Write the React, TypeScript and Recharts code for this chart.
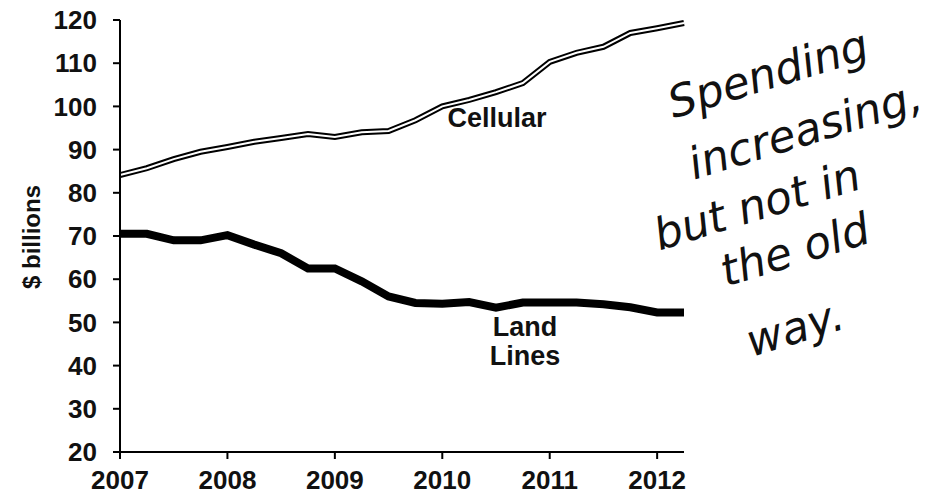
import React from 'react';
import { LineChart, Line, XAxis, YAxis, ReferenceDot } from 'recharts';

// quarterly spending, $ billions
const quarters = [
  2007, 2007.25, 2007.5, 2007.75, 2008, 2008.25, 2008.5, 2008.75, 2009, 2009.25, 2009.5,
  2009.75, 2010, 2010.25, 2010.5, 2010.75, 2011, 2011.25, 2011.5, 2011.75, 2012, 2012.25,
];
const cellular = [
  84.1, 85.7, 87.8, 89.5, 90.6, 91.8, 92.7, 93.6, 92.9, 94, 94.3,
  96.8, 100, 101.5, 103.3, 105.4, 110.3, 112.4, 113.8, 117, 118.1, 119.3,
];
const landLines = [
  70.5, 70.5, 69, 69, 70.2, 68, 66, 62.5, 62.5, 59.5, 56,
  54.5, 54.3, 54.7, 53.4, 54.6, 54.6, 54.6, 54.2, 53.5, 52.3, 52.3,
];
const yearTicks = [2007, 2008, 2009, 2010, 2011, 2012];
const valueTicks = [20, 30, 40, 50, 60, 70, 80, 90, 100, 110, 120];

// handwritten note, one entry per line
const noteLines = ['Spending', 'increasing,', 'but not in', 'the old', 'way.'];
const notePos = [
  { x: 768, y: 74 },
  { x: 805, y: 130 },
  { x: 757, y: 205 },
  { x: 795, y: 250 },
  { x: 795, y: 328 },
];

const data = quarters.map((q, i) => ({ q, cellular: cellular[i], land: landLines[i] }));

const FONT = '"Liberation Sans", Arial, sans-serif';

const tickStyle = { fontFamily: FONT, fontSize: 26, fontWeight: 700, fill: '#111' };

const seriesLabel = (lines: string[]) => (props: any) => (
  <text
    x={props.cx}
    y={props.cy}
    textAnchor="middle"
    fontFamily={FONT}
    fontSize={27}
    fontWeight={700}
    fill="#111"
  >
    {lines.map((l, i) => (
      <tspan key={l} x={props.cx} dy={i === 0 ? 0 : 29}>
        {l}
      </tspan>
    ))}
  </text>
);

const App: React.FC = () => {
  return (
    <div style={{ position: 'absolute', left: 0, top: 0, width: 945, height: 496, background: '#fff' }}>
      <LineChart width={945} height={496} data={data} margin={{ top: 20, right: 261, bottom: 14, left: 60 }}>
        <XAxis
          type="number"
          dataKey="q"
          domain={[2007, 2012.25]}
          ticks={yearTicks}
          tick={tickStyle}
          tickSize={7}
          tickMargin={12}
          height={30}
          axisLine={{ stroke: '#000', strokeWidth: 2 }}
          tickLine={{ stroke: '#000', strokeWidth: 2 }}
        />
        <YAxis
          type="number"
          domain={[20, 120]}
          ticks={valueTicks}
          tick={tickStyle}
          tickSize={7}
          tickMargin={16}
          width={60}
          axisLine={{ stroke: '#000', strokeWidth: 2 }}
          tickLine={{ stroke: '#000', strokeWidth: 2 }}
          label={{
            content: () => (
              <text
                x={31}
                y={237}
                transform="rotate(-90 31 237)"
                textAnchor="middle"
                dominantBaseline="central"
                fontFamily={FONT}
                fontSize={24}
                fontWeight={700}
                fill="#111"
              >
                $ billions
              </text>
            ),
          }}
        />
        {/* cellular drawn as a hollow double line */}
        <Line type="linear" dataKey="cellular" stroke="#000" strokeWidth={6} dot={false} isAnimationActive={false} />
        <Line type="linear" dataKey="cellular" stroke="#fff" strokeWidth={2} dot={false} isAnimationActive={false} />
        <Line type="linear" dataKey="land" stroke="#000" strokeWidth={8} dot={false} isAnimationActive={false} />
        <ReferenceDot x={2010.51} y={95.2} r={0} shape={seriesLabel(['Cellular'])} />
        <ReferenceDot x={2010.77} y={46.8} r={0} shape={seriesLabel(['Land', 'Lines'])} />
      </LineChart>
      {noteLines.map((t, i) => (
        <div
          key={t}
          style={{
            position: 'absolute',
            left: notePos[i].x,
            top: notePos[i].y,
            transform: 'translate(-50%, -50%) rotate(-17deg)',
            fontFamily: '"DejaVu Sans", sans-serif',
            fontStyle: 'italic',
            fontWeight: 300,
            fontSize: 44,
            color: '#111',
            whiteSpace: 'nowrap',
            lineHeight: 1,
          }}
        >
          {t}
        </div>
      ))}
    </div>
  );
};

export default App;
